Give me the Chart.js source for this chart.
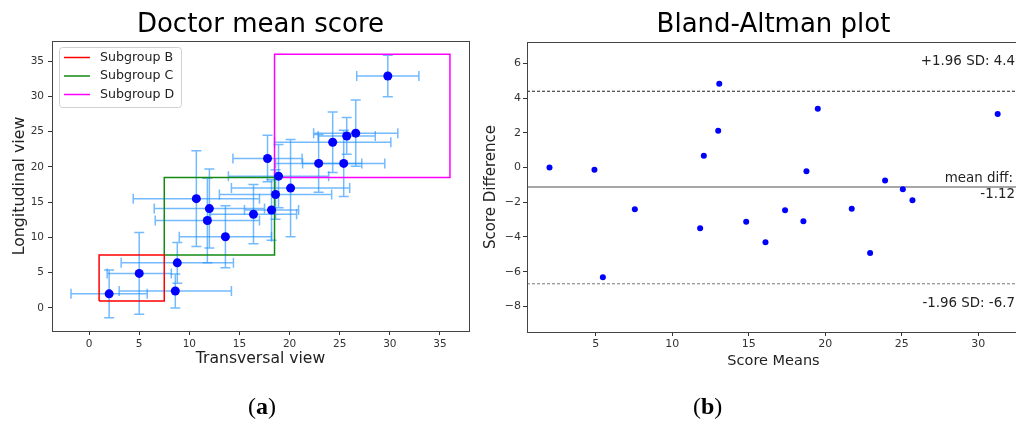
<!DOCTYPE html>
<html>
<head>
<meta charset="utf-8">
<script src="https://cdn.jsdelivr.net/npm/chart.js@4.4.1/dist/chart.umd.min.js"></script>
<style>
body { margin: 0; width: 1016px; height: 425px; overflow: hidden; background: #fff; position: relative; }
canvas { position: absolute; top: 0; }
#c1 { left: 0; }
#c2 { left: 480px; }
.lab { position: absolute; top: 393px; font: 24px "Liberation Serif", serif; color: #000; }
</style>
</head>
<body>
<canvas id="c1" width="480" height="425"></canvas>
<canvas id="c2" width="560" height="425"></canvas>
<div class="lab" style="left:248px">(<b>a</b>)</div>
<div class="lab" style="left:693px">(<b>b</b>)</div>
<script>
// ---- (a) doctor mean score, transversal vs longitudinal ----
const transversal    = [2.0, 5.0, 8.6, 8.8, 13.6, 11.8, 12.0, 10.7, 16.4, 18.2, 18.6, 20.1, 18.9, 17.8, 22.9, 25.4, 24.3, 25.7, 26.6, 29.8];
const longitudinal   = [2.0, 4.9, 2.4, 6.4, 10.1, 12.4, 14.1, 15.5, 13.3, 13.9, 16.1, 17.0, 18.7, 21.2, 20.5, 20.5, 23.5, 24.4, 24.8, 32.9];
const transversalErr = [3.8, 3.2, 5.6, 5.6, 4.6, 5.2, 5.5, 6.3, 4.3, 2.7, 5.6, 5.9, 5.0, 3.45, 4.3, 4.1, 5.8, 2.85, 4.2, 3.1];
const longitudinalErr= [3.4, 5.8, 2.4, 2.9, 4.4, 6.0, 5.6, 6.8, 4.2, 4.3, 3.5, 6.9, 4.5, 3.3, 4.1, 4.7, 4.3, 2.6, 4.7, 2.95];
const subgroupNames  = ['Subgroup B', 'Subgroup C', 'Subgroup D'];
const subgroupLimits = [[1, 7.5], [7.5, 18.5], [18.5, 36]];
const leftTicks      = [0, 5, 10, 15, 20, 25, 30, 35];

// ---- (b) Bland-Altman ----
const scoreMeans = [1.97, 4.91, 5.46, 7.55, 11.82, 12.06, 13.0, 13.07, 14.83, 16.09, 17.37, 18.57, 18.77, 19.51, 21.73, 22.93, 23.91, 25.07, 25.7, 31.27];
const scoreDiffs = [0.0, -0.12, -6.32, -2.40, -3.50, 0.68, 2.12, 4.83, -3.13, -4.30, -2.46, -3.09, -0.21, 3.39, -2.37, -4.92, -0.75, -1.25, -1.88, 3.09];
const meanDiff   = -1.12;
const upperLimit = 4.4;
const lowerLimit = -6.7;
const rightXTicks = [5, 10, 15, 20, 25, 30];
const rightYTicks = [-8, -6, -4, -2, 0, 2, 4, 6];

const subgroupColors = ['#ff0000', '#138a13', '#ff00ff'];
const FONT = 'DejaVu Sans';
Chart.defaults.font.family = FONT;

const minus = v => v < 0 ? '\u2212' + Math.abs(v) : '' + v;

// box round the plot area, like matplotlib spines
const frame = {
  id: 'frame',
  afterDraw(chart) {
    const { ctx, chartArea: a } = chart;
    ctx.save();
    ctx.strokeStyle = '#444';
    ctx.lineWidth = 1;
    ctx.strokeRect(a.left + 0.5, a.top + 0.5, a.right - a.left, a.bottom - a.top);
    ctx.restore();
  }
};

// title centred over the plot area (chart.js centres over the whole canvas)
const areaTitle = {
  id: 'areaTitle',
  afterDraw(chart, args, opts) {
    const { ctx, chartArea: a } = chart;
    ctx.save();
    ctx.font = '26px "' + FONT + '"';
    ctx.fillStyle = '#000';
    ctx.textAlign = 'center';
    ctx.textBaseline = 'middle';
    ctx.fillText(opts.text, (a.left + a.right) / 2, 25);
    ctx.restore();
  }
};

const errorBars = {
  id: 'errorBars',
  beforeDatasetsDraw(chart) {
    const { ctx, scales: { x, y } } = chart;
    const cap = 5;
    ctx.save();
    ctx.strokeStyle = 'rgba(30,144,255,0.62)';
    ctx.lineWidth = 1.5;
    transversal.forEach((t, i) => {
      const l = longitudinal[i];
      const px = x.getPixelForValue(t), py = y.getPixelForValue(l);
      const x0 = x.getPixelForValue(t - transversalErr[i]);
      const x1 = x.getPixelForValue(t + transversalErr[i]);
      const y0 = y.getPixelForValue(l - longitudinalErr[i]);
      const y1 = y.getPixelForValue(l + longitudinalErr[i]);
      ctx.beginPath();
      ctx.moveTo(x0, py); ctx.lineTo(x1, py);
      ctx.moveTo(x0, py - cap); ctx.lineTo(x0, py + cap);
      ctx.moveTo(x1, py - cap); ctx.lineTo(x1, py + cap);
      ctx.stroke();
      ctx.beginPath();
      ctx.moveTo(px, y0); ctx.lineTo(px, y1);
      ctx.moveTo(px - cap, y0); ctx.lineTo(px + cap, y0);
      ctx.moveTo(px - cap, y1); ctx.lineTo(px + cap, y1);
      ctx.stroke();
    });
    ctx.restore();
  }
};

const boxLegend = {
  id: 'boxLegend',
  afterDraw(chart) {
    const { ctx, chartArea: a } = chart;
    const bx = a.left + 7, by = a.top + 6, bw = 122, bh = 60;
    ctx.save();
    ctx.fillStyle = 'rgba(255,255,255,0.85)';
    ctx.strokeStyle = '#d0d0d0';
    ctx.lineWidth = 1;
    ctx.beginPath();
    ctx.roundRect(bx + 0.5, by + 0.5, bw, bh, 3);
    ctx.fill();
    ctx.stroke();
    ctx.font = '12.6px "' + FONT + '"';
    ctx.textBaseline = 'middle';
    ctx.fillStyle = '#222';
    subgroupNames.forEach((name, i) => {
      const ry = by + 10.5 + i * 18.5;
      ctx.strokeStyle = subgroupColors[i];
      ctx.lineWidth = 1.5;
      ctx.beginPath();
      ctx.moveTo(bx + 5, ry); ctx.lineTo(bx + 31, ry);
      ctx.stroke();
      ctx.fillText(name, bx + 41, ry);
    });
    ctx.restore();
  }
};

const rectData = lim => [
  { x: lim[0], y: lim[0] }, { x: lim[1], y: lim[0] },
  { x: lim[1], y: lim[1] }, { x: lim[0], y: lim[1] }, { x: lim[0], y: lim[0] }
];

const axisCommon = (fontSize, pad) => ({
  type: 'linear',
  grid: { drawOnChartArea: false, drawTicks: true, tickLength: 4, color: '#333' },
  border: { display: false },
  ticks: { font: { size: fontSize }, color: '#333', padding: pad, maxRotation: 0 }
});

new Chart(document.getElementById('c1'), {
  type: 'scatter',
  data: {
    datasets: [
      {
        data: transversal.map((t, i) => ({ x: t, y: longitudinal[i] })),
        backgroundColor: '#0000ff', borderColor: '#0000ff',
        pointRadius: 4.5, pointBorderWidth: 0
      },
      ...subgroupLimits.map((lim, i) => ({
        label: subgroupNames[i],
        data: rectData(lim),
        showLine: true, borderColor: subgroupColors[i], borderWidth: 1.5,
        pointRadius: 0, tension: 0
      }))
    ]
  },
  options: {
    responsive: false, animation: false,
    layout: { padding: { left: 0, right: 11, top: 41, bottom: 0 } },
    plugins: {
      legend: { display: false }, tooltip: { enabled: false },
      areaTitle: { text: 'Doctor mean score' }
    },
    scales: {
      x: Object.assign(axisCommon(10.5, 3), {
        min: -3.7, max: 37.9,
        afterBuildTicks: s => { s.ticks = leftTicks.map(v => ({ value: v })); },
        afterFit: s => { s.height = 94; },
        title: { display: true, text: 'Transversal view', color: '#222', font: { size: 15.6 }, padding: { top: 0, bottom: 56.6 } }
      }),
      y: Object.assign(axisCommon(10.5, 4), {
        min: -3.27, max: 37.87,
        afterBuildTicks: s => { s.ticks = leftTicks.map(v => ({ value: v })); },
        afterFit: s => { s.width = 52; },
        title: { display: true, text: 'Longitudinal view', color: '#222', font: { size: 15.8 }, padding: { top: 10, bottom: 0 } }
      })
    }
  },
  plugins: [errorBars, frame, boxLegend, areaTitle]
});

const baNotes = {
  id: 'baNotes',
  afterDraw(chart) {
    const { ctx, chartArea: a, scales: { y } } = chart;
    const rx = a.right - 5;
    ctx.save();
    ctx.font = '13.4px "' + FONT + '"';
    ctx.fillStyle = '#222';
    ctx.textAlign = 'right';
    ctx.textBaseline = 'middle';
    ctx.fillText('+1.96 SD: ' + upperLimit.toFixed(1), rx, y.getPixelForValue(upperLimit) - 30);
    ctx.fillText('mean diff:', rx - 2, y.getPixelForValue(meanDiff) - 8.5);
    ctx.fillText(meanDiff.toFixed(2), rx, y.getPixelForValue(meanDiff) + 7.5);
    ctx.fillText('-1.96 SD: ' + lowerLimit.toFixed(1), rx, y.getPixelForValue(lowerLimit) + 20);
    ctx.restore();
  }
};

const rxMin = 0.5, rxMax = 32.73;
const hLine = (v, color, width, dash) => ({
  data: [{ x: rxMin, y: v }, { x: rxMax, y: v }],
  showLine: true, borderColor: color, borderWidth: width, borderDash: dash, pointRadius: 0
});

new Chart(document.getElementById('c2'), {
  type: 'scatter',
  data: {
    datasets: [
      {
        data: scoreMeans.map((m, i) => ({ x: m, y: scoreDiffs[i] })),
        backgroundColor: '#0000ff', borderColor: '#0000ff',
        pointRadius: 3, pointBorderWidth: 0
      },
      hLine(meanDiff, '#888', 1.5, []),
      hLine(upperLimit, '#222', 1, [3, 2]),
      hLine(lowerLimit, '#777', 1, [3, 2])
    ]
  },
  options: {
    responsive: false, animation: false,
    layout: { padding: { left: 0, right: 20, top: 42, bottom: 0 } },
    plugins: {
      legend: { display: false }, tooltip: { enabled: false },
      areaTitle: { text: 'Bland-Altman plot' }
    },
    scales: {
      x: Object.assign(axisCommon(11, 2), {
        min: rxMin, max: rxMax,
        afterBuildTicks: s => { s.ticks = rightXTicks.map(v => ({ value: v })); },
        afterFit: s => { s.height = 93; },
        title: { display: true, text: 'Score Means', color: '#222', font: { size: 14.5 }, padding: { top: 0, bottom: 55.5 } }
      }),
      y: Object.assign(axisCommon(11, 2), {
        min: -9.48, max: 7.24,
        afterBuildTicks: s => { s.ticks = rightYTicks.map(v => ({ value: v })); },
        afterFit: s => { s.width = 47; },
        ticks: { font: { size: 11 }, color: '#333', padding: 2, callback: v => minus(v) },
        title: { display: true, text: 'Score Difference', color: '#222', font: { size: 15 }, padding: { top: 2, bottom: 0 } }
      })
    }
  },
  plugins: [frame, baNotes, areaTitle]
});
</script>
</body>
</html>
